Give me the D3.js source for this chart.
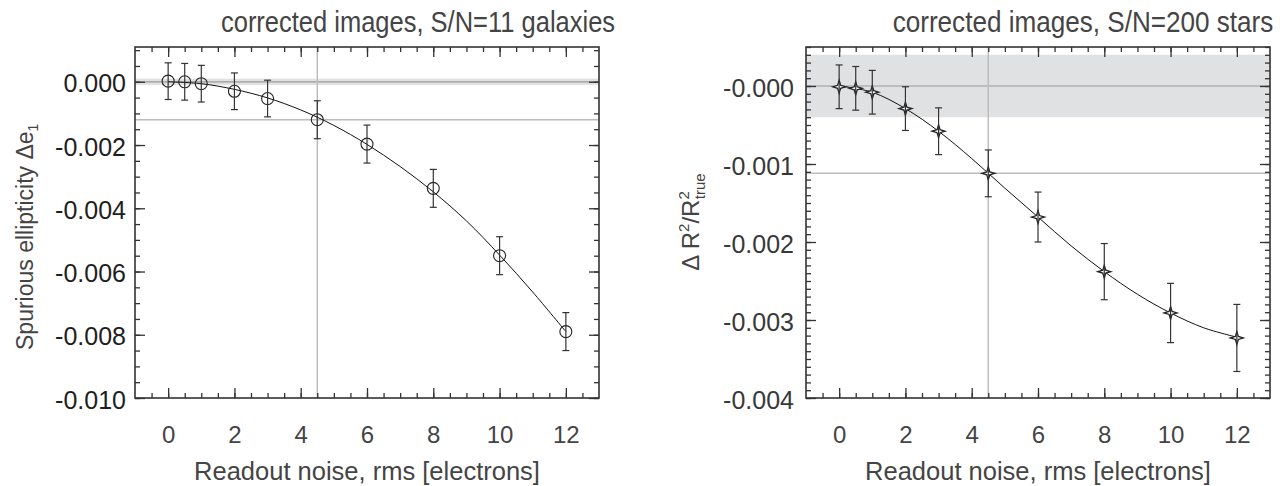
<!DOCTYPE html>
<html>
<head>
<meta charset="utf-8">
<script src="https://cdn.jsdelivr.net/npm/d3@7"></script>
<style>
  body { margin: 0; background: #fff; }
  svg { font-family: "Liberation Sans", Arial, Helvetica, sans-serif; }
</style>
</head>
<body>
<svg id="chart" width="1286" height="486"></svg>
<script>
// readout noise values (x) shared by both panels
var noise = [0, 0.5, 1, 2, 3, 4.5, 6, 8, 10, 12];

// left panel: galaxies, spurious ellipticity
var galaxyDe = [0.00002, 0.0000, -0.00006, -0.0003, -0.00053, -0.0012, -0.00197, -0.00337, -0.0055, -0.0079];
var galaxyErr = [0.00058, 0.00058, 0.00058, 0.00058, 0.00058, 0.0006, 0.0006, 0.0006, 0.0006, 0.0006];
var galaxyFitX = [0, 1, 2, 3, 4, 5, 6, 7, 8, 9, 10, 11, 12];
var galaxyFitY = [0, -0.00006, -0.00024, -0.00051, -0.00089, -0.00138, -0.00198, -0.00268, -0.00348, -0.0044, -0.00548, -0.00665, -0.0079];

// right panel: stars, size bias
var starDR = [-0.00001, -0.00003, -0.00008, -0.00029, -0.00058, -0.00112, -0.00168, -0.00238, -0.00291, -0.00323];
var starErr = [0.00028, 0.00028, 0.00028, 0.00028, 0.0003, 0.0003, 0.00032, 0.00036, 0.00038, 0.00043];
var starFitX = [0, 1, 2, 3, 4, 5, 6, 7, 8, 9, 10, 11, 12];
var starFitY = [0, -0.00008, -0.00029, -0.00058, -0.00093, -0.00131, -0.00168, -0.00205, -0.00238, -0.00267, -0.00291, -0.0031, -0.00322];

var xMajor = [0, 2, 4, 6, 8, 10, 12];
var xLabels = ["0", "2", "4", "6", "8", "10", "12"];
var leftYMajor = [0, -0.002, -0.004, -0.006, -0.008, -0.010];
var leftYLabels = ["0.000", "-0.002", "-0.004", "-0.006", "-0.008", "-0.010"];
var rightYMajor = [0, -0.001, -0.002, -0.003, -0.004];
var rightYLabels = ["-0.000", "-0.001", "-0.002", "-0.003", "-0.004"];

var svg = d3.select("#chart");
var top_ = 47, bottom_ = 398;

function minorTicks(lo, hi, step) {
    var out = [];
    var n = Math.round((hi - lo) / step);
    for (var i = 0; i <= n; i++) out.push(+(lo + i * step).toFixed(6));
    return out;
}

var drawPanel = function(opt) {
    var x = d3.scaleLinear().domain([-1, 13]).range([opt.left, opt.right]);
    var y = d3.scaleLinear().domain(opt.yDomain).range([bottom_, top_]);
    var g = svg.append("g");

    // shaded band and reference lines
    g.append("rect")
        .attr("x", x(-1)).attr("width", x(13) - x(-1))
        .attr("y", y(opt.band)).attr("height", y(-opt.band) - y(opt.band))
        .attr("fill", "#e0e1e2");
    g.append("line")
        .attr("x1", x(-1)).attr("x2", x(13)).attr("y1", y(0)).attr("y2", y(0))
        .attr("stroke", "#9a9a9a").attr("stroke-width", 1.2);
    g.append("line")
        .attr("x1", x(-1)).attr("x2", x(13)).attr("y1", y(opt.refY)).attr("y2", y(opt.refY))
        .attr("stroke", "#bcbcbc").attr("stroke-width", 1.5);
    g.append("line")
        .attr("x1", x(4.5)).attr("x2", x(4.5)).attr("y1", y(opt.yDomain[0])).attr("y2", y(opt.yDomain[1]))
        .attr("stroke", "#bcbcbc").attr("stroke-width", 1.5);

    // fit curve
    var line = d3.line().x(function(d) { return x(d[0]); }).y(function(d) { return y(d[1]); })
        .curve(d3.curveCatmullRom);
    g.append("path")
        .datum(d3.zip(opt.fitX, opt.fitY))
        .attr("d", line)
        .attr("fill", "none").attr("stroke", "#111").attr("stroke-width", 1);

    var pts = noise.map(function(n, i) { return { x: n, y: opt.vals[i], e: opt.errs[i] }; });

    // markers
    if (opt.marker === "circle") {
        g.selectAll(".mk").data(pts).enter().append("circle")
            .attr("cx", function(d) { return x(d.x); })
            .attr("cy", function(d) { return y(d.y); })
            .attr("r", 6)
            .attr("fill", "none").attr("stroke", "#222").attr("stroke-width", 1.1);
    } else {
        var s = 6.5, k = 1.5;
        var star = "M" + (-s) + ",0L" + (-k) + "," + (-k) + "L0," + (-s) + "L" + k + "," + (-k) +
            "L" + s + ",0L" + k + "," + k + "L0," + s + "L" + (-k) + "," + k + "Z";
        g.selectAll(".mk").data(pts).enter().append("path")
            .attr("transform", function(d) { return "translate(" + x(d.x) + "," + y(d.y) + ")"; })
            .attr("d", star)
            .attr("fill", "#fff").attr("stroke", "#222").attr("stroke-width", 1.3);
    }

    // error bars
    var eb = g.selectAll(".eb").data(pts).enter().append("g").attr("stroke", "#333").attr("stroke-width", 1.2);
    eb.append("line")
        .attr("x1", function(d) { return x(d.x); }).attr("x2", function(d) { return x(d.x); })
        .attr("y1", function(d) { return y(d.y + d.e); }).attr("y2", function(d) { return y(d.y - d.e); });
    eb.append("line")
        .attr("x1", function(d) { return x(d.x) - 3.5; }).attr("x2", function(d) { return x(d.x) + 3.5; })
        .attr("y1", function(d) { return y(d.y + d.e); }).attr("y2", function(d) { return y(d.y + d.e); });
    eb.append("line")
        .attr("x1", function(d) { return x(d.x) - 3.5; }).attr("x2", function(d) { return x(d.x) + 3.5; })
        .attr("y1", function(d) { return y(d.y - d.e); }).attr("y2", function(d) { return y(d.y - d.e); });

    // axes: major + minor ticks, pointing inward on all four sides
    var xMinor = minorTicks(-0.5, 12.5, 0.5);
    var yMinor = minorTicks(opt.yDomain[0], opt.yDomain[1], opt.yMinorStep);

    var bottomAx = g.append("g").attr("transform", "translate(0," + bottom_ + ")")
        .call(d3.axisBottom(x).tickValues(xMajor).tickSize(-10).tickPadding(28)
            .tickFormat(function(d, i) { return xLabels[i]; }));
    g.append("g").attr("transform", "translate(0," + bottom_ + ")")
        .call(d3.axisBottom(x).tickValues(xMinor).tickSize(-5).tickFormat(""));
    g.append("g").attr("transform", "translate(0," + top_ + ")")
        .call(d3.axisTop(x).tickValues(xMajor).tickSize(-10).tickFormat(""));
    g.append("g").attr("transform", "translate(0," + top_ + ")")
        .call(d3.axisTop(x).tickValues(xMinor).tickSize(-5).tickFormat(""));

    var leftAx = g.append("g").attr("transform", "translate(" + opt.left + ",0)")
        .call(d3.axisLeft(y).tickValues(opt.yMajor).tickSize(-10).tickPadding(opt.yPad)
            .tickFormat(function(d, i) { return opt.yLabels[i]; }));
    g.append("g").attr("transform", "translate(" + opt.left + ",0)")
        .call(d3.axisLeft(y).tickValues(yMinor).tickSize(-5).tickFormat(""));
    g.append("g").attr("transform", "translate(" + opt.right + ",0)")
        .call(d3.axisRight(y).tickValues(opt.yMajor).tickSize(-10).tickFormat(""));
    g.append("g").attr("transform", "translate(" + opt.right + ",0)")
        .call(d3.axisRight(y).tickValues(yMinor).tickSize(-5).tickFormat(""));

    g.selectAll(".domain").remove();
    g.selectAll(".tick line").attr("stroke", "#333").attr("stroke-width", 1.3);
    bottomAx.selectAll("text").attr("font-size", 24).attr("fill", "#444").attr("font-family", null);
    leftAx.selectAll("text").attr("font-size", 25).attr("fill", opt.yLabelColor).attr("font-family", null)
        .attr("dy", "0.4em");

    // frame
    g.append("rect")
        .attr("x", opt.left).attr("y", top_)
        .attr("width", opt.right - opt.left).attr("height", bottom_ - top_)
        .attr("fill", "none").attr("stroke", "#333").attr("stroke-width", 1.6);

    // titles (the original face is a narrow one, so squeeze Liberation Sans a bit)
    g.append("text")
        .attr("transform", "translate(" + opt.titleX + ",32) scale(" + opt.titleSqueeze + ",1)")
        .attr("text-anchor", "middle")
        .attr("font-size", 30).attr("fill", "#444")
        .text(opt.title);
    g.append("text")
        .attr("x", (opt.left + opt.right) / 2).attr("y", 480)
        .attr("text-anchor", "middle")
        .attr("font-size", 25.5).attr("fill", "#444")
        .text("Readout noise, rms [electrons]");

    return g;
};

var gl = drawPanel({
    left: 135, right: 599, yDomain: [-0.010, 0.0011], band: 0.0001, refY: -0.0012,
    fitX: galaxyFitX, fitY: galaxyFitY, vals: galaxyDe, errs: galaxyErr, marker: "circle",
    yMajor: leftYMajor, yLabels: leftYLabels, yMinorStep: 0.0005, yLabelColor: "#1e1e1e", yPad: 9,
    title: "corrected images, S/N=11 galaxies", titleX: 418, titleSqueeze: 0.85
});

var gr = drawPanel({
    left: 806, right: 1270, yDomain: [-0.004, 0.0005], band: 0.0004, refY: -0.00112,
    fitX: starFitX, fitY: starFitY, vals: starDR, errs: starErr, marker: "star",
    yMajor: rightYMajor, yLabels: rightYLabels, yMinorStep: 0.0001, yLabelColor: "#383838", yPad: 12,
    title: "corrected images, S/N=200 stars", titleX: 1083, titleSqueeze: 0.87
});

// y-axis titles
var yl = gl.append("text")
    .attr("transform", "translate(33,350) rotate(-90)")
    .attr("text-anchor", "start")
    .attr("font-size", 23).attr("fill", "#444");
yl.append("tspan").text("Spurious ellipticity \u0394e");
yl.append("tspan").attr("font-size", 14).attr("dy", 5).text("1");

var yr = gr.append("text")
    .attr("transform", "translate(699,222) rotate(-90)")
    .attr("text-anchor", "middle")
    .attr("font-size", 24).attr("fill", "#444");
yr.append("tspan").text("\u0394 R");
yr.append("tspan").attr("font-size", 15).attr("dy", -10).text("2");
yr.append("tspan").attr("dy", 10).text("/R");
yr.append("tspan").attr("font-size", 15).attr("dy", -10).text("2");
yr.append("tspan").attr("font-size", 15).attr("dx", -8).attr("dy", 16).text("true");
</script>
</body>
</html>
